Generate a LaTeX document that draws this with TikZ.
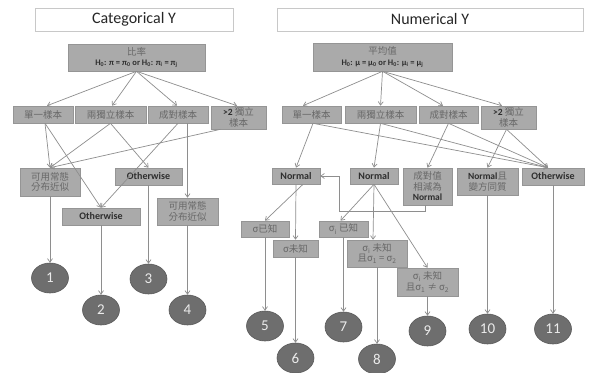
\documentclass[tikz,border=0pt]{standalone}
\usepackage{fontspec}
\setmainfont{Carlito}
\newfontfamily\cjk{Noto Sans CJK TC}
\usetikzlibrary{arrows.meta,shadows,shapes.geometric}
\definecolor{boxfill}{HTML}{AAAAAA}
\definecolor{boxline}{HTML}{959595}
\definecolor{cjktext}{HTML}{686868}
\definecolor{bolddark}{HTML}{2E2E2E}
\definecolor{circfill}{HTML}{6E6E6E}
\definecolor{circline}{HTML}{5A5A5A}
\definecolor{lncol}{HTML}{8E8E8E}
\definecolor{hdrline}{HTML}{C8C8C8}
\newcommand\mybf[1]{{\normalfont\bfseries\color{bolddark}#1}}
\begin{document}
\begin{tikzpicture}[x=1pt,y=-1pt,
  box/.style={draw=boxline, fill=boxfill, line width=0.6pt, inner sep=1pt, align=center,
    font=\cjk\fontsize{9.5}{10.5}\selectfont, text=cjktext,
    drop shadow={shadow xshift=1pt, shadow yshift=-1pt, opacity=0.3}},
  bw/.style={font=\fontsize{10}{10}\selectfont\bfseries, text=bolddark},
  hdr/.style={draw=hdrline, fill=white, line width=0.7pt, font=\fontsize{16}{16}\selectfont, text=black!85},
  circ/.style={ellipse, draw=circline, fill=circfill, line width=0.6pt, minimum width=37pt, minimum height=30pt,
    inner sep=0pt, text=white!92!black, font=\fontsize{15}{15}\selectfont},
  ln/.style={draw=lncol, line width=0.7pt, -{Straight Barb[length=3.5pt,width=5pt]}}
]
\useasboundingbox[fill=white] (0,0) rectangle (591,372);

% headers
\node[hdr, minimum width=198pt, minimum height=23pt] (hL) at (134,19.5) {Categorical Y};
\node[hdr, minimum width=306pt, minimum height=23pt] (hR) at (430,19.5) {Numerical Y};

% top nodes
\node[box, minimum width=137pt, minimum height=27pt] (tL) at (136.5,57.5)
  {比率\\{\normalfont\fontsize{8.5}{9}\selectfont\bfseries\color{bolddark}H\textsubscript{0}: π = π\textsubscript{0} or H\textsubscript{0}: π\textsubscript{i} = π\textsubscript{j}}};
\node[box, minimum width=139pt, minimum height=28pt] (tR) at (382.5,57)
  {平均值\\{\normalfont\fontsize{8.5}{9}\selectfont\bfseries\color{bolddark}H\textsubscript{0}: μ = μ\textsubscript{0} or H\textsubscript{0}: μ\textsubscript{i} = μ\textsubscript{j}}};

% second row left
\node[box, minimum width=60pt, minimum height=17pt] (L1) at (43,114.5) {單一樣本};
\node[box, minimum width=71pt, minimum height=17pt] (L2) at (110.5,114.5) {兩獨立樣本};
\node[box, minimum width=60pt, minimum height=17pt] (L3) at (178,114.5) {成對樣本};
\node[box, minimum width=55pt, minimum height=23pt] (L4) at (238.5,117.5) {\mybf{>2} 獨立\\樣本};
% second row right
\node[box, minimum width=59pt, minimum height=17pt] (R1) at (311.5,114.5) {單一樣本};
\node[box, minimum width=71pt, minimum height=17pt] (R2) at (380.5,114.5) {兩獨立樣本};
\node[box, minimum width=59pt, minimum height=17pt] (R3) at (448.5,114.5) {成對樣本};
\node[box, minimum width=55pt, minimum height=23pt] (R4) at (508.5,117.5) {\mybf{>2} 獨立\\樣本};

% third row left
\node[box, minimum width=60pt, minimum height=28pt] (A1) at (50,182) {可用常態\\分布近似};
\node[box, bw, minimum width=67pt, minimum height=17pt] (O1) at (148.5,176.5) {Otherwise};
\node[box, bw, minimum width=78pt, minimum height=17pt] (O2) at (101,216.5) {Otherwise};
\node[box, minimum width=61pt, minimum height=27pt] (A2) at (187.5,211.5) {可用常態\\分布近似};

% third row right
\node[box, bw, minimum width=48pt, minimum height=16pt] (N1) at (296,176) {Normal};
\node[box, bw, minimum width=48pt, minimum height=16pt] (N2) at (374,176) {Normal};
\node[box, minimum width=49pt, minimum height=37pt] (P) at (427.5,186.5) {成對值\\相減為\\\mybf{Normal}};
\node[box, minimum width=61pt, minimum height=27pt] (NV) at (487.5,181.5) {\mybf{Normal}且\\變方同質};
\node[box, bw, minimum width=62pt, minimum height=17pt] (O3) at (553,176.5) {Otherwise};

% sigma nodes
\node[box, minimum width=48pt, minimum height=16pt] (S1) at (265,229) {σ已知};
\node[box, minimum width=45pt, minimum height=17pt] (S2) at (295.5,248.5) {σ未知};
\node[box, minimum width=49pt, minimum height=16pt] (S3) at (343.5,229) {σ\textsubscript{i} 已知};
\node[box, minimum width=60pt, minimum height=27pt] (S4) at (377,253.5) {σ\textsubscript{i} 未知\\且σ\textsubscript{1} = σ\textsubscript{2}};
\node[box, minimum width=61pt, minimum height=28pt] (S5) at (427.5,282) {σ\textsubscript{i} 未知\\且σ\textsubscript{1} ≠ σ\textsubscript{2}};

% circles
\node[circ] (c1) at (50,278) {1};
\node[circ] (c2) at (101,310) {2};
\node[circ] (c3) at (148.5,279) {3};
\node[circ] (c4) at (187.5,310) {4};
\node[circ] (c5) at (265,326) {5};
\node[circ] (c6) at (295.5,358) {6};
\node[circ] (c7) at (343.5,327) {7};
\node[circ] (c8) at (377,359) {8};
\node[circ] (c9) at (427.5,331) {9};
\node[circ] (c10) at (487.5,329) {10};
\node[circ] (c11) at (553,329) {11};

% connectors left
\draw[ln] (tL.south) -- ([xshift=4pt]L1.north);
\draw[ln] (tL.south) -- ([xshift=1.5pt]L2.north);
\draw[ln] (tL.south) -- ([xshift=-1pt]L3.north);
\draw[ln] (tL.south) -- ([xshift=-1.5pt]L4.north);
\draw[ln] ([xshift=2pt]L1.south) -- (A1.north);
\draw[ln] ([xshift=2pt]L1.south) -- (O2.north);
\draw[ln] (L2.south) -- (A1.north);
\draw[ln] (L2.south) -- (O1.north);
\draw[ln] (L3.south) -- (O2.north);
\draw[ln] (A2.north |- L3.south) -- (A2.north);
\draw[ln] ([xshift=-18pt]L4.south) -- (A1.north);
\draw[ln] (A1.south) -- (c1.north);
\draw[ln] (O2.south) -- (c2.north);
\draw[ln] (O1.south) -- (c3.north);
\draw[ln] (A2.south) -- (c4.north);

% connectors right
\draw[ln] (tR.south) -- ([xshift=-8.5pt]R1.north);
\draw[ln] (tR.south) -- (R2.north);
\draw[ln] (tR.south) -- ([xshift=-5.5pt]R3.north);
\draw[ln] (tR.south) -- ([xshift=-6.5pt]R4.north);
\draw[ln] ([xshift=1.5pt]R1.south) -- (N1.north);
\draw[ln] ([xshift=1.5pt]R1.south) -- ([xshift=-5pt]O3.north);
\draw[ln] (R2.south) -- (N2.north);
\draw[ln] (R2.south) -- ([xshift=-5pt]O3.north);
\draw[ln] (R3.south) -- (P.north);
\draw[ln] (R3.south) -- ([xshift=-5pt]O3.north);
\draw[ln] ([xshift=-2pt]R4.south) -- (NV.north);
\draw[ln] ([xshift=-2pt]R4.south) -- ([xshift=-5pt]O3.north);
\coordinate (pk) at (339,176);
\draw[ln] ([xshift=-2pt]P.south) -- ++(0,6) -| (pk) -- (N1.east);
\draw[ln] ([xshift=7pt]N1.south) -- (S1.north);
\draw[ln] (N1.south) -- (S2.north);
\draw[ln] (N2.south) -- ([xshift=-3pt]S3.north);
\draw[ln] (N2.south) -- ([xshift=-4pt]S4.north);
\draw[ln] (N2.south) -- (S5.north);
\draw[ln] (S1.south) -- (c5.north);
\draw[ln] (S2.south) -- (c6.north);
\draw[ln] (S3.south) -- (c7.north);
\draw[ln] (S4.south) -- (c8.north);
\draw[ln] (S5.south) -- (c9.north);
\draw[ln] (NV.south) -- (c10.north);
\draw[ln] (O3.south) -- (c11.north);
\end{tikzpicture}
\end{document}
